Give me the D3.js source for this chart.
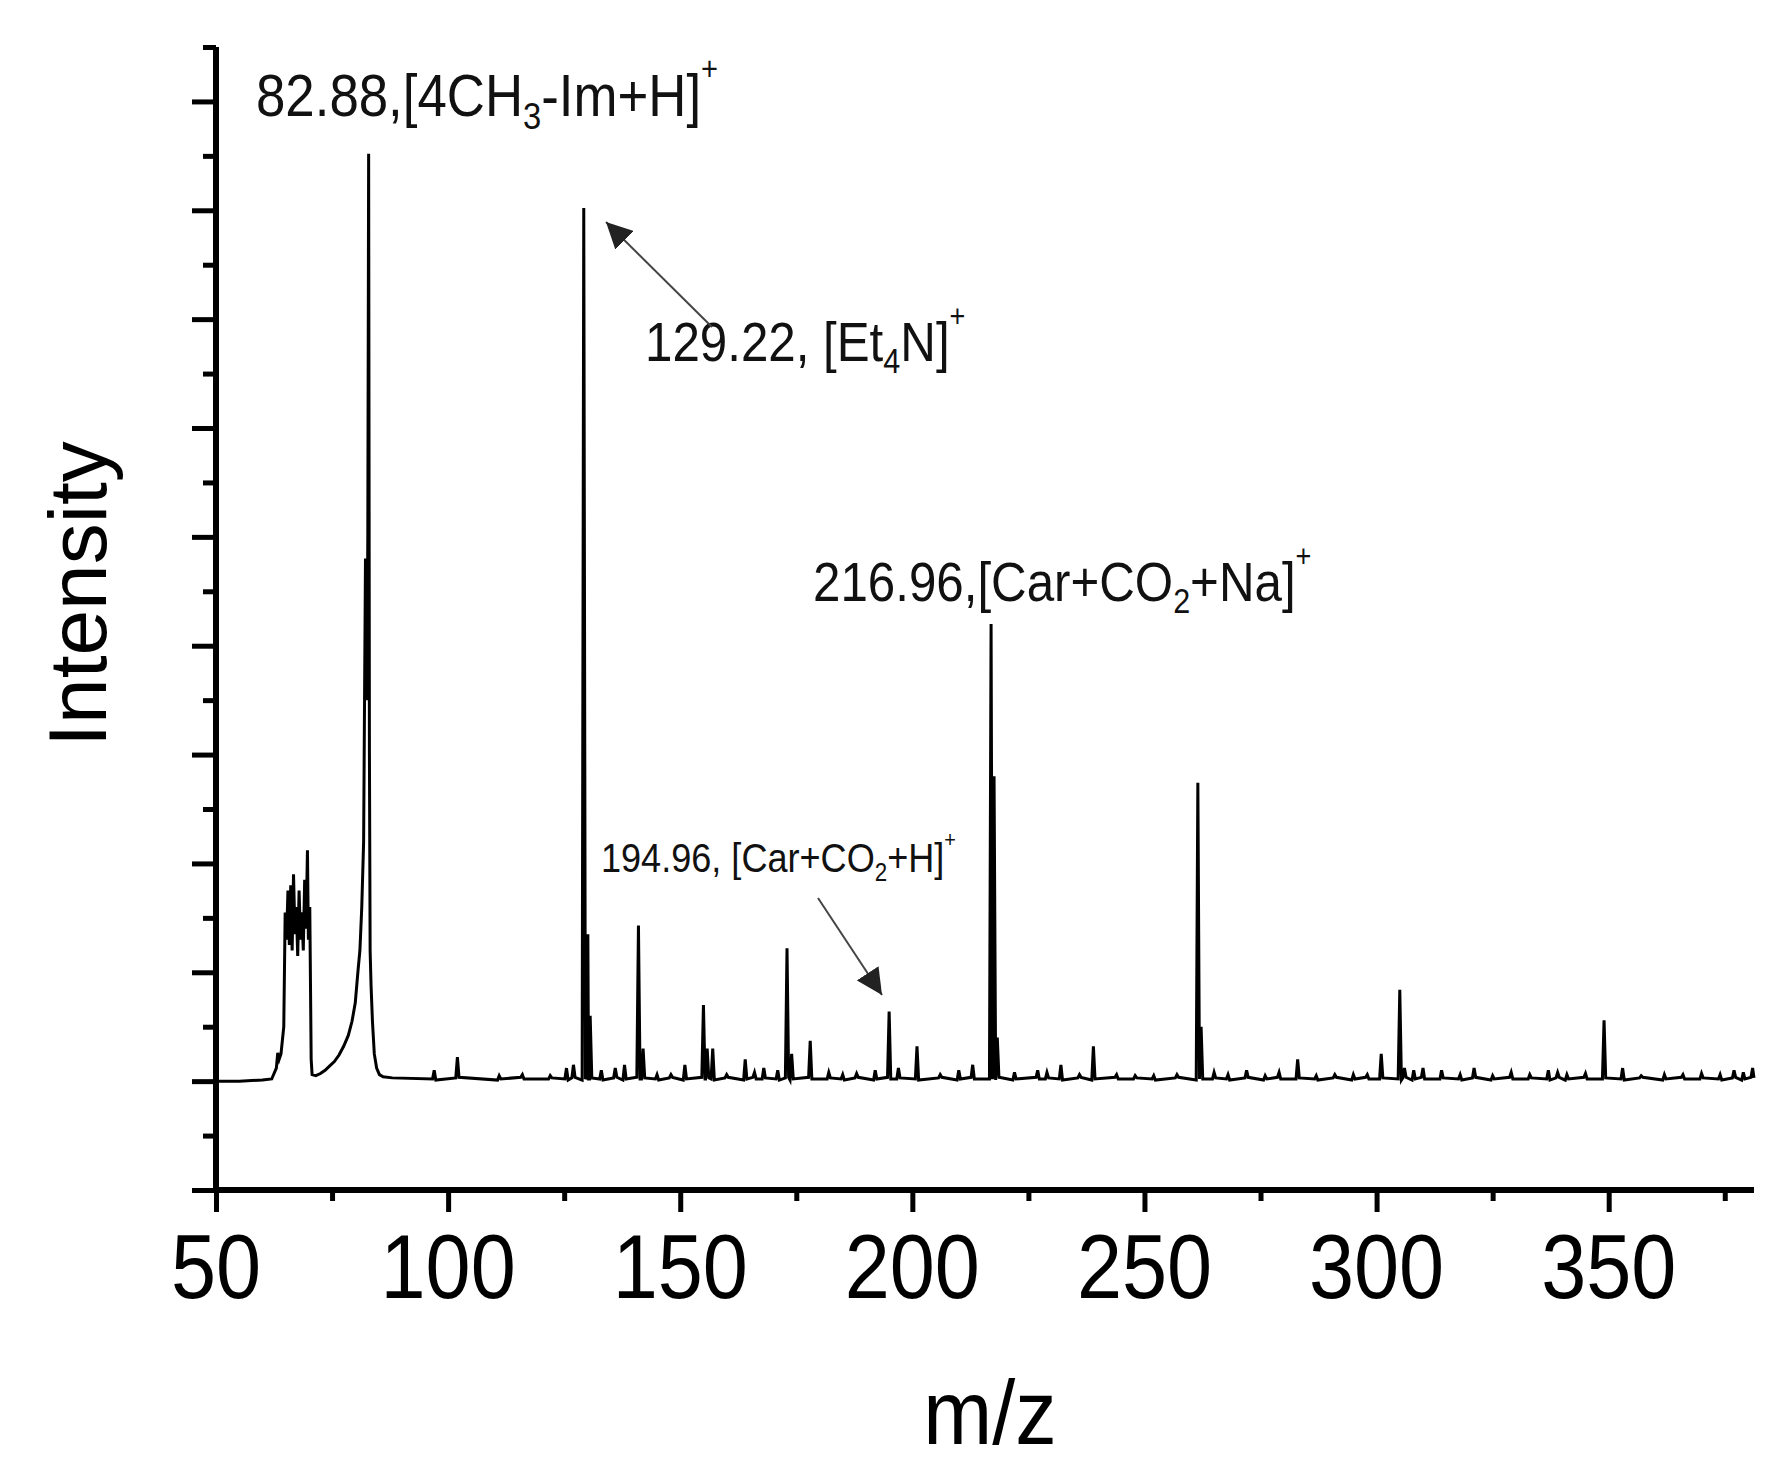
<!DOCTYPE html>
<html><head><meta charset="utf-8">
<script src="https://cdn.jsdelivr.net/npm/d3@7"></script>
<style>body{margin:0;background:#fff}</style></head>
<body><svg id="c" width="1790" height="1473"></svg>
<script>
// continuous regions (m/z, intensity)
const profileMz = [50,55,60,62,63,63.3,63.6,64,64.6,64.9,65.2,65.5,65.8,66.1,66.4,66.7,67.0,67.3,67.6,67.9,68.2,68.5,68.8,69.1,69.4,69.7,69.9,70.2,70.5,70.7,71.5,72.5,73.5,74.5,75.5,76.5,77.5,78.5,79.3,80,80.6,81.0,81.4,81.8,82.2,82.5,82.7,82.88,83.05,83.2,83.4,83.7,84.1,84.6,85.2,86,88];
const profileI  = [0.0,0.0,0.01,0.02,0.12,0.26,0.2,0.25,0.5,1.55,1.3,1.75,1.25,1.8,1.2,1.9,1.35,1.6,1.15,1.75,1.3,1.55,1.2,1.85,1.4,2.12,1.3,1.6,0.2,0.06,0.05,0.07,0.1,0.14,0.18,0.24,0.32,0.42,0.55,0.72,1.02,1.2,1.6,2.2,4.8,3.5,5.0,8.52,3.0,1.2,0.88,0.55,0.25,0.12,0.06,0.04,0.03];
// sharp peaks beyond 88 (m/z, intensity)
const peakMz = [97,102,111,116,122,125.5,127,129.22,130.1,130.6,133,136,138,141,142,145,148,151,155,155.8,157,160,164,166,168,171,173,174,178,182,185,188,192,195,197,201,206,210,213,216.96,217.6,218.3,222,227,229,232,236,239,244,248,252,257,261.5,262.2,265,268,272,276,279,283,287,291,295,298,301,305,306,308,310,314,318,321,325,329,333,337,339,341,345,349,353,357,362,366,370,374,377,379,381];
const peakI  = [0.1,0.22,0.05,0.06,0.05,0.12,0.15,8.02,1.35,0.6,0.1,0.12,0.15,1.43,0.3,0.06,0.06,0.15,0.7,0.3,0.3,0.06,0.2,0.08,0.12,0.1,1.22,0.25,0.37,0.08,0.06,0.07,0.1,0.64,0.12,0.32,0.06,0.1,0.15,4.2,2.8,0.4,0.08,0.1,0.08,0.15,0.06,0.32,0.06,0.05,0.05,0.06,2.74,0.5,0.08,0.06,0.1,0.05,0.08,0.2,0.05,0.06,0.06,0.06,0.25,0.84,0.12,0.1,0.12,0.1,0.06,0.12,0.05,0.08,0.06,0.1,0.08,0.06,0.07,0.56,0.12,0.05,0.06,0.06,0.07,0.06,0.1,0.08,0.12];
const xTicks = [50,100,150,200,250,300,350];
const xMinor = [75,125,175,225,275,325,375];
const yMajor = [-1,0,1,2,3,4,5,6,7,8,9];
const yMinor = [-0.5,0.5,1.5,2.5,3.5,4.5,5.5,6.5,7.5,8.5,9.5];

const svg = d3.select("#c");
const xMax = 381.3;
const x = d3.scaleLinear().domain([50,xMax]).range([216,1754]);
const y = d3.scaleLinear().domain([-1,9.5]).range([1190,47]);

// build spectrum path
const pts = profileMz.map((m,i)=>[m,profileI[i]]);
const base=[0.02,0.03,0.01,0.035,0.02];
peakMz.forEach((m,i)=>{
  pts.push([m-0.35, base[i%5]]);
  pts.push([m, peakI[i]]);
  pts.push([m+0.35, base[(i+2)%5]]);
});
pts.push([xMax,0.03]);
pts.sort((a,b)=>a[0]-b[0]);
svg.append("path").datum(pts.filter(p=>p[0]<=xMax))
  .attr("d", d3.line().x(d=>x(d[0])).y(d=>y(d[1])))
  .attr("fill","none").attr("stroke","#000").attr("stroke-width",3).attr("stroke-linejoin","miter");

// axes
const ax = svg.append("g").attr("transform","translate(0,1190)");
ax.call(d3.axisBottom(x).tickValues(xTicks).tickSize(22).tickFormat(""));
ax.append("g").call(d3.axisBottom(x).tickValues(xMinor).tickSize(11).tickFormat(""));
const ay = svg.append("g").attr("transform","translate(216,0)");
ay.call(d3.axisLeft(y).tickValues(yMajor).tickSize(24).tickFormat(""));
ay.append("g").call(d3.axisLeft(y).tickValues(yMinor).tickSize(13).tickFormat(""));
svg.selectAll(".domain").attr("stroke","#000").attr("stroke-width",6);
svg.selectAll(".tick line").attr("stroke","#000").attr("stroke-width",5);
ax.selectAll(".domain").attr("d",`M${x(50)-3},0H${x(xMax)}`);
ay.selectAll(".domain").attr("d",`M0,${y(9.5)}V${y(-1)+3}`);

const F = "Arial, 'Liberation Sans', sans-serif";
xTicks.forEach(t=>{
  svg.append("text").attr("transform",`translate(${x(t)},1298) scale(0.9,1)`)
    .attr("text-anchor","middle").attr("font-family",F).attr("font-size",90).text(t);
});
svg.append("text").attr("transform","translate(990,1444) scale(0.92,1)")
  .attr("text-anchor","middle").attr("font-family",F).attr("font-size",90).text("m/z");
svg.append("text").attr("transform","translate(106,594) rotate(-90)")
  .attr("text-anchor","middle").attr("font-family",F).attr("font-size",82).text("Intensity");

function label(px,py,size,parts){
  const t = svg.append("text").attr("transform",`translate(${px},${py}) scale(0.88,1)`)
    .attr("font-family",F).attr("font-size",size).attr("fill","#111");
  parts.forEach(p=>{
    const ts=t.append("tspan").text(p[0]);
    if(p[1]==="sub") ts.attr("font-size",size*0.62).attr("dy",size*0.22);
    else if(p[1]==="sup") ts.attr("font-size",size*0.55).attr("dy",-size*0.6);
    else if(p[1]==="back") ts.attr("dy",-size*0.22);
  });
}
label(256,116,60,[["82.88,[4CH"],["3","sub"],["-Im+H]","back"],["+","sup"]]);
label(645,361,56,[["129.22, [Et"],["4","sub"],["N]","back"],["+","sup"]]);
label(813,601,56,[["216.96,[Car+CO"],["2","sub"],["+Na]","back"],["+","sup"]]);
label(601,872,41,[["194.96, [Car+CO"],["2","sub"],["+H]","back"],["+","sup"]]);

const defs=svg.append("defs");
defs.append("marker").attr("id","ah").attr("viewBox","0 0 10 10").attr("refX",10).attr("refY",5)
  .attr("markerWidth",26).attr("markerHeight",26).attr("orient","auto").attr("markerUnits","userSpaceOnUse")
  .append("path").attr("d","M0,0L10,5L0,10z").attr("fill","#222");
function arrow(x1,y1,x2,y2){
  svg.append("line").attr("x1",x1).attr("y1",y1).attr("x2",x2).attr("y2",y2)
    .attr("stroke","#444").attr("stroke-width",2).attr("marker-end","url(#ah)");
}
arrow(712,327,606,222);
arrow(818,898,882,995);
</script></body></html>
